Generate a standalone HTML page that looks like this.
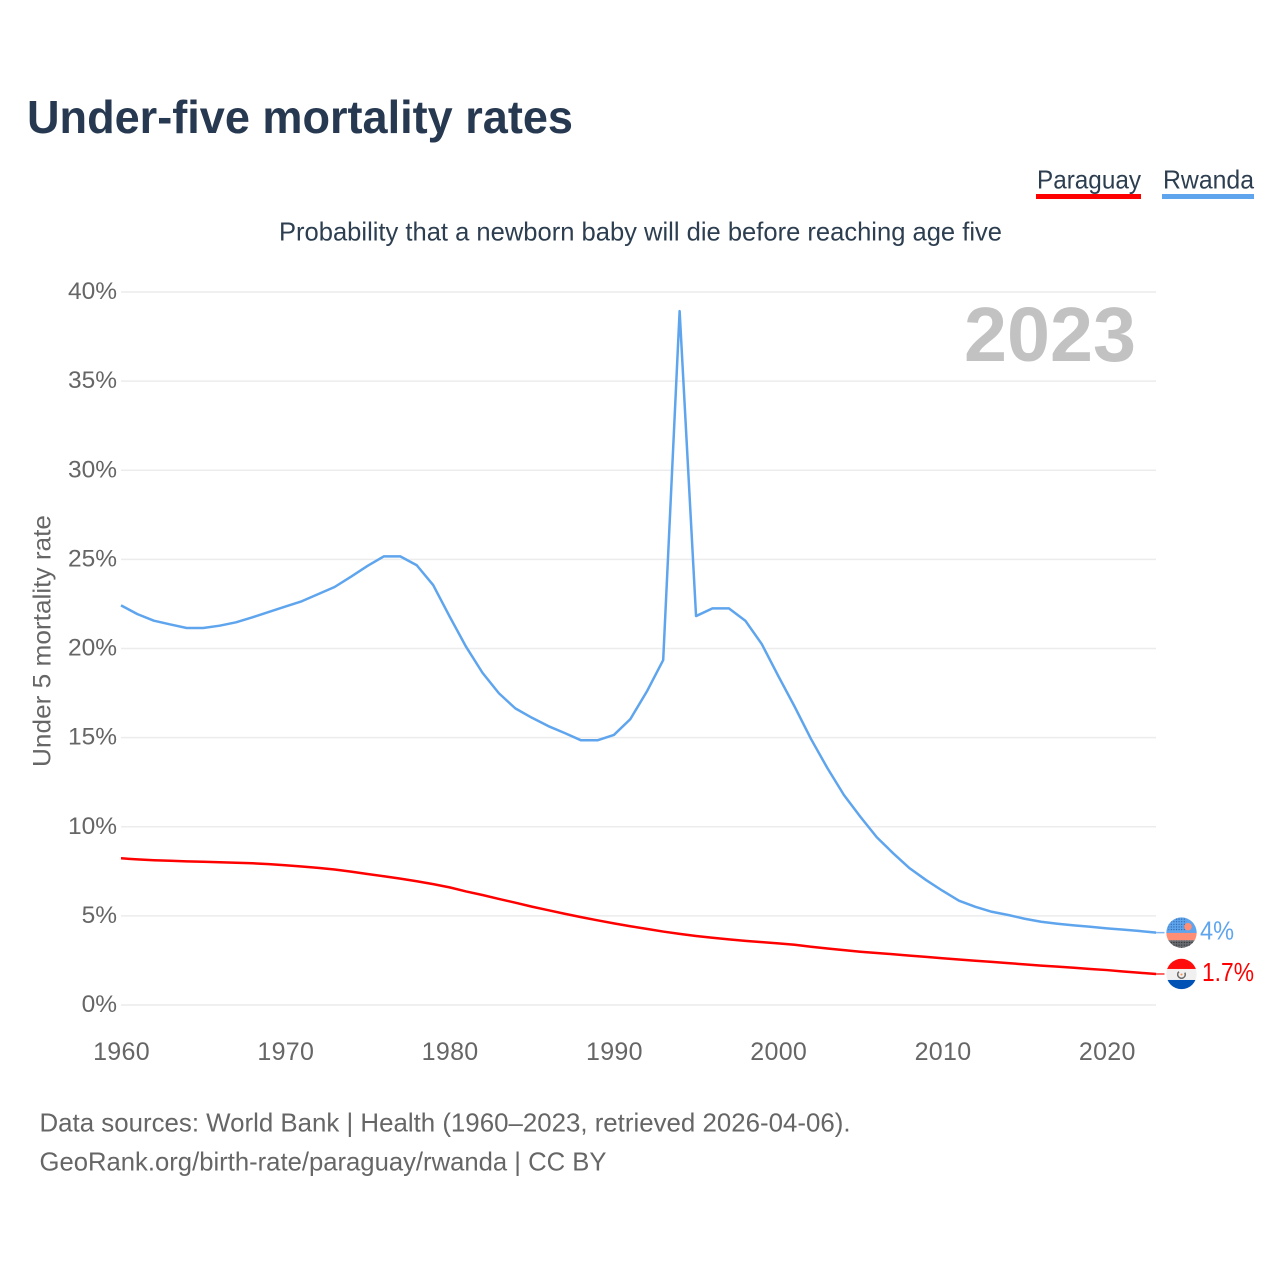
<!DOCTYPE html>
<html lang="en">
<head>
<meta charset="utf-8">
<title>Under-five mortality rates</title>
<style>
html,body{margin:0;padding:0;background:#fff;}
svg{display:block;font-family:"Liberation Sans",sans-serif;}
</style>
</head>
<body>
<svg id="chart" xmlns="http://www.w3.org/2000/svg" width="1280" height="1280" viewBox="0 0 1280 1280">
  <rect x="0" y="0" width="1280" height="1280" fill="#ffffff"/>
  <text x="27" y="133" font-size="46" font-weight="700" fill="#273951" textLength="546" lengthAdjust="spacingAndGlyphs">Under-five mortality rates</text>
  <g>
    <text x="1037" y="188.5" font-size="26" fill="#2c3e50" textLength="104" lengthAdjust="spacingAndGlyphs">Paraguay</text>
    <rect x="1036" y="194" width="105" height="5" fill="#ff0000"/>
  </g>
  <g>
    <text x="1163" y="188.5" font-size="26" fill="#2c3e50" textLength="91" lengthAdjust="spacingAndGlyphs">Rwanda</text>
    <rect x="1162" y="194" width="92" height="5" fill="#5fa5ee"/>
  </g>
  <text x="279" y="240.5" font-size="26" fill="#2c3e50" textLength="723" lengthAdjust="spacingAndGlyphs">Probability that a newborn baby will die before reaching age five</text>
  <text transform="translate(50.5,767) rotate(-90)" x="0" y="0" font-size="25" fill="#666666" textLength="252" lengthAdjust="spacingAndGlyphs">Under 5 mortality rate</text>
  <g id="grid"></g>
  <g id="yticks"></g>
  <g id="xticks"></g>
  <text x="964" y="361" font-size="77" font-weight="700" fill="#c2c2c2" textLength="172" lengthAdjust="spacingAndGlyphs">2023</text>
  <g id="series"></g>
  <g id="ends"></g>
  <text x="39.5" y="1131.5" font-size="26" fill="#666666" textLength="811" lengthAdjust="spacingAndGlyphs">Data sources: World Bank | Health (1960–2023, retrieved 2026-04-06).</text>
  <text x="39.5" y="1170.5" font-size="26" fill="#666666" textLength="567" lengthAdjust="spacingAndGlyphs">GeoRank.org/birth-rate/paraguay/rwanda | CC BY</text>
</svg>
<script>
var startYear = 1960;
var yTickValues = [0, 5, 10, 15, 20, 25, 30, 35, 40];
var yTickLabels = ['0%', '5%', '10%', '15%', '20%', '25%', '30%', '35%', '40%'];
var xTickValues = [1960, 1970, 1980, 1990, 2000, 2010, 2020];
var xTickLabels = ['1960', '1970', '1980', '1990', '2000', '2010', '2020'];
var paraguayValues = [
  8.23, 8.17, 8.12, 8.09, 8.06, 8.04, 8.01, 7.98, 7.95, 7.90,
  7.84, 7.77, 7.69, 7.60, 7.48, 7.35, 7.22, 7.09, 6.94, 6.78,
  6.60, 6.37, 6.17, 5.95, 5.74, 5.52, 5.32, 5.12, 4.93, 4.75,
  4.58, 4.42, 4.27, 4.12, 3.99, 3.87, 3.77, 3.68, 3.60, 3.53,
  3.46, 3.38, 3.27, 3.17, 3.08, 2.99, 2.92, 2.85, 2.77, 2.70,
  2.62, 2.55, 2.48, 2.42, 2.35, 2.28, 2.21, 2.15, 2.09, 2.02,
  1.96, 1.88, 1.81, 1.74
];
var rwandaValues = [
  22.42, 21.93, 21.56, 21.35, 21.15, 21.15, 21.28, 21.47, 21.75, 22.05,
  22.35, 22.65, 23.05, 23.45, 24.03, 24.63, 25.17, 25.17, 24.67, 23.56,
  21.80, 20.10, 18.64, 17.49, 16.64, 16.12, 15.65, 15.26, 14.85, 14.85,
  15.15, 16.04, 17.58, 19.35, 38.93, 21.82, 22.25, 22.25, 21.56, 20.25,
  18.47, 16.74, 14.92, 13.28, 11.78, 10.56, 9.41, 8.51, 7.67, 7.01,
  6.41, 5.85, 5.51, 5.23, 5.05, 4.84, 4.67, 4.56, 4.47, 4.39,
  4.30, 4.23, 4.15, 4.06
];
var paraguayEndLabel = '1.7%';
var rwandaEndLabel = '4%';

var NS = 'http://www.w3.org/2000/svg';
function xScale(year) { return 121 + (year - 1960) * 16.43; }
function yScale(v) { return 1005 - v * 17.825; }
function mk(tag, attrs, parent) {
  var el = document.createElementNS(NS, tag);
  for (var k in attrs) el.setAttribute(k, attrs[k]);
  parent.appendChild(el);
  return el;
}

var gridG = document.getElementById('grid');
var yG = document.getElementById('yticks');
yTickValues.forEach(function (v, i) {
  var line = mk('line', {x1: 121, x2: 1156, y1: yScale(v), y2: yScale(v), stroke: '#ececec', 'stroke-width': 1.5}, gridG);
  
  
  var t = mk('text', {x: 117, y: yScale(v) + 7, 'text-anchor': 'end', 'font-size': 24.5, fill: '#666666'}, yG);
  
  
  t.textContent = yTickLabels[i];
});

var xG = document.getElementById('xticks');
xTickValues.forEach(function (v, i) {
  var t = mk('text', {x: xScale(v) + 0.5, y: 1060, 'text-anchor': 'middle', 'font-size': 25, 'letter-spacing': '0.3', fill: '#666666'}, xG);
  
  
  t.textContent = xTickLabels[i];
});

function linePath(values) {
  return values.map(function (v, i) {
    return (i ? 'L' : 'M') + xScale(startYear + i).toFixed(2) + ' ' + yScale(v).toFixed(2);
  }).join(' ');
}
var seriesG = document.getElementById('series');
var rwandaLine = mk('path', {d: linePath(rwandaValues), fill: 'none', stroke: '#5fa5ee', 'stroke-width': 2.5, 'stroke-linejoin': 'round'}, seriesG);


var paraguayLine = mk('path', {d: linePath(paraguayValues), fill: 'none', stroke: '#ff0000', 'stroke-width': 2.5, 'stroke-linejoin': 'round'}, seriesG);



var endsG = document.getElementById('ends');
var lastYear = startYear + rwandaValues.length - 1;
var endX = xScale(lastYear);
var flagX = 1181.5;

function connector(cy, color, name) {
  var c = mk('line', {x1: endX, x2: flagX - 17, y1: cy, y2: cy, stroke: color, 'stroke-width': 1.5, opacity: 0.8}, endsG);
  
  
}

var rwY = yScale(rwandaValues[rwandaValues.length - 1]);
var pyY = yScale(paraguayValues[paraguayValues.length - 1]);
connector(rwY, '#5fa5ee', 'rwanda-connector');
connector(pyY, '#ff0000', 'paraguay-connector');

var defs = mk('defs', {}, endsG);
var clipR = mk('clipPath', {id: 'clip-rw'}, defs);
mk('circle', {cx: flagX, cy: rwY, r: 15.2}, clipR);
var clipP = mk('clipPath', {id: 'clip-py'}, defs);
mk('circle', {cx: flagX, cy: pyY, r: 15.2}, clipP);
var dotsBlue = mk('pattern', {id: 'dots-blue', width: 2.6, height: 2.6, patternUnits: 'userSpaceOnUse'}, defs);
mk('circle', {cx: 1.3, cy: 1.3, r: 0.65, fill: '#2b5f9e'}, dotsBlue);
var dotsDark = mk('pattern', {id: 'dots-dark', width: 2.6, height: 2.6, patternUnits: 'userSpaceOnUse'}, defs);
mk('circle', {cx: 1.3, cy: 1.3, r: 0.7, fill: '#2e3033'}, dotsDark);

var flagR = mk('g', {'clip-path': 'url(#clip-rw)'}, endsG);


mk('rect', {x: flagX - 16, y: rwY - 16, width: 32, height: 16.5, fill: '#5fa5ee'}, flagR);
mk('rect', {x: flagX - 16, y: rwY + 0.3, width: 32, height: 7.4, fill: '#ff8e74'}, flagR);
mk('rect', {x: flagX - 16, y: rwY + 7.7, width: 32, height: 9, fill: '#6a6d72'}, flagR);
mk('rect', {x: flagX - 16, y: rwY + 7.7, width: 32, height: 9, fill: 'url(#dots-dark)'}, flagR);
mk('rect', {x: flagX - 13, y: rwY - 15, width: 18, height: 13, fill: 'url(#dots-blue)'}, flagR);
mk('circle', {cx: flagX + 6.5, cy: rwY - 6, r: 3.8, fill: '#ff8e74'}, flagR);

var flagP = mk('g', {'clip-path': 'url(#clip-py)'}, endsG);


mk('rect', {x: flagX - 16, y: pyY - 16, width: 32, height: 11, fill: '#ff0d0d'}, flagP);
mk('rect', {x: flagX - 16, y: pyY - 5, width: 32, height: 11, fill: '#f0f0f0'}, flagP);
mk('rect', {x: flagX - 16, y: pyY + 6, width: 32, height: 10, fill: '#0052b4'}, flagP);
mk('circle', {cx: flagX, cy: pyY + 0.5, r: 3.8, fill: 'none', stroke: '#6a6a6a', 'stroke-width': 1.5, 'stroke-dasharray': '17 7', 'transform': 'rotate(-30 ' + flagX + ' ' + (pyY + 0.5) + ')'}, flagP);
mk('circle', {cx: flagX, cy: pyY + 0.5, r: 1, fill: '#ff8e4a'}, flagP);

var rwLabel = mk('text', {x: 1200, y: rwY + 7, 'font-size': 26, fill: '#5fa5ee', textLength: 34, lengthAdjust: 'spacingAndGlyphs'}, endsG);


rwLabel.textContent = rwandaEndLabel;
var pyLabel = mk('text', {x: 1202, y: pyY + 7, 'font-size': 26, fill: '#ff0000', textLength: 52, lengthAdjust: 'spacingAndGlyphs'}, endsG);


pyLabel.textContent = paraguayEndLabel;
</script>
</body>
</html>
